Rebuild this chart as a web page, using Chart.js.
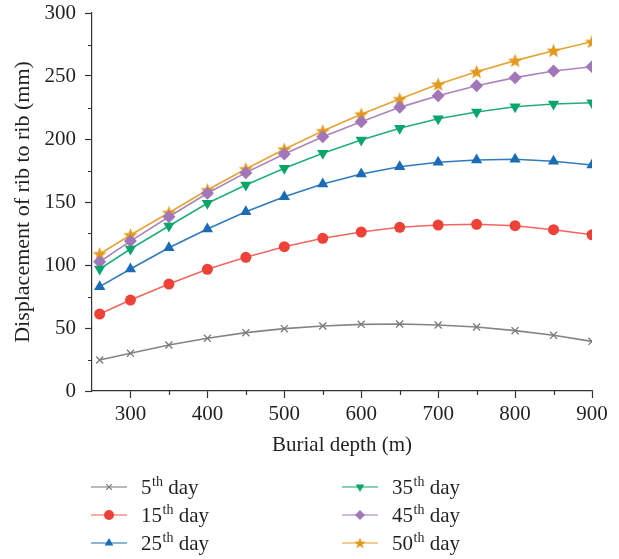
<!DOCTYPE html>
<html>
<head>
<meta charset="utf-8">
<script src="https://cdn.jsdelivr.net/npm/chart.js@4.4.1/dist/chart.umd.min.js"></script>
<style>
    html, body { margin: 0; padding: 0; background: #fff; }
</style>
</head>
<body>
<canvas id="ribChart" width="619" height="559"></canvas>
<script>
// Burial depth (m) and rib-to-rib displacement (mm) for each day
const depths = [260, 300, 350, 400, 450, 500, 550, 600, 650, 700, 750, 800, 850, 900];
const dayNumbers = [5, 15, 25, 35, 45, 50];
const day5 = [24.6, 29.9, 36.5, 41.8, 46.3, 49.5, 51.6, 52.9, 53.2, 52.4, 50.8, 47.9, 44.2, 39.4];
const day15 = [61.1, 72.2, 84.9, 96.6, 106.1, 114.5, 121.2, 126.2, 129.9, 131.7, 132.3, 131.2, 128.0, 124.0];
const day25 = [82.8, 96.8, 113.7, 128.6, 142.3, 154.2, 164.3, 172.2, 178.0, 181.5, 183.3, 183.9, 182.3, 179.4];
const day35 = [96.8, 112.7, 131.0, 149.0, 163.5, 176.7, 188.6, 199.2, 208.5, 216.1, 221.4, 225.6, 227.8, 228.8];
const day45 = [102.6, 119.0, 138.3, 156.9, 173.3, 188.1, 201.8, 213.7, 225.1, 234.4, 242.3, 248.7, 254.0, 257.4];
const day50 = [108.7, 123.8, 141.5, 159.5, 176.2, 191.8, 206.3, 219.6, 231.7, 243.4, 253.4, 262.2, 270.1, 277.2];
const xTicks = [300, 400, 500, 600, 700, 800, 900];
const yTicks = [0, 50, 100, 150, 200, 250, 300];

const serif = '"Liberation Serif", "DejaVu Serif", serif';
const textSize = 21;

// filled five-point star, used for the 50th day markers
function drawStar(ctx, cx, cy, r, color) {
    ctx.save();
    ctx.beginPath();
    for (let i = 0; i < 10; i++) {
        const rad = i % 2 === 0 ? r : r * 0.42;
        const a = -Math.PI / 2 + i * Math.PI / 5;
        const px = cx + rad * Math.cos(a);
        const py = cy + rad * Math.sin(a);
        if (i === 0) ctx.moveTo(px, py); else ctx.lineTo(px, py);
    }
    ctx.closePath();
    ctx.fillStyle = color;
    ctx.fill();
    ctx.restore();
}

function starCanvas(size, color) {
    const c = document.createElement('canvas');
    c.width = size;
    c.height = size;
    drawStar(c.getContext('2d'), size / 2, size / 2 + 0.5, size / 2, color);
    return c;
}

const seriesStyles = [
    { data: day5,  color: '#7a7a7a', line: 'rgba(110,110,110,0.85)', style: 'crossRot', radius: 5, rotation: 0 },
    { data: day15, color: '#ee4137', line: 'rgba(238,65,55,0.8)',   style: 'circle',   radius: 5.5, rotation: 0 },
    { data: day25, color: '#1a6db4', line: 'rgba(26,109,180,0.9)',  style: 'triangle', radius: 6.5, rotation: 0 },
    { data: day35, color: '#0aa56b', line: 'rgba(10,165,107,0.9)',  style: 'triangle', radius: 6.5, rotation: 180 },
    { data: day45, color: '#a177b7', line: 'rgba(161,119,183,0.9)', style: 'rectRot',  radius: 6.5, rotation: 0 },
    { data: day50, color: '#e2991d', line: 'rgba(226,153,29,0.9)',  style: 'star',     radius: 6.5, rotation: 0 }
];

const datasets = seriesStyles.map((s, i) => ({
    label: dayNumbers[i] + 'th day',
    data: s.data.map((v, j) => ({ x: depths[j], y: v })),
    borderColor: s.line,
    borderWidth: 1.6,
    pointStyle: s.style === 'star' ? starCanvas(15, s.color) : s.style,
    pointRotation: s.rotation,
    pointRadius: s.radius,
    pointBackgroundColor: s.color,
    pointBorderColor: s.color,
    pointBorderWidth: s.style === 'crossRot' ? 1.3 : 0,
    fill: false,
    tension: 0
}));

// short minor ticks between the labelled ones
const minorTicks = {
    id: 'minorTicks',
    afterDraw(chart) {
        const ctx = chart.ctx;
        const xs = chart.scales.x, ys = chart.scales.y;
        const area = chart.chartArea;
        ctx.save();
        ctx.strokeStyle = '#333';
        ctx.lineWidth = 1.2;
        ctx.beginPath();
        for (let v = 350; v <= 850; v += 100) {
            const px = Math.round(xs.getPixelForValue(v)) + 0.5;
            ctx.moveTo(px, area.bottom);
            ctx.lineTo(px, area.bottom + 4);
        }
        for (let v = 25; v <= 275; v += 50) {
            const py = Math.round(ys.getPixelForValue(v)) + 0.5;
            ctx.moveTo(area.left, py);
            ctx.lineTo(area.left - 4, py);
        }
        ctx.stroke();
        ctx.restore();
    }
};

// two-column legend with superscript ordinals
const ordinalLegend = {
    id: 'ordinalLegend',
    afterDraw(chart) {
        const ctx = chart.ctx;
        const cols = [91, 342];
        const rows = [487, 515, 543];
        ctx.save();
        chart.data.datasets.forEach((ds, i) => {
            const s = seriesStyles[i];
            const x0 = cols[Math.floor(i / 3)];
            const y = rows[i % 3];
            ctx.strokeStyle = s.line;
            ctx.globalAlpha = 0.75;
            ctx.lineWidth = 1.6;
            ctx.beginPath();
            ctx.moveTo(x0, y);
            ctx.lineTo(x0 + 36, y);
            ctx.stroke();
            ctx.globalAlpha = 1;
            const mx = x0 + 18;
            if (s.style === 'star') {
                drawStar(ctx, mx, y + 0.5, 6, s.color);
            } else {
                ctx.fillStyle = s.color;
                ctx.strokeStyle = s.color;
                ctx.lineWidth = s.style === 'crossRot' ? 1.2 : 0;
                Chart.helpers.drawPoint(ctx, {
                    pointStyle: s.style,
                    rotation: s.rotation,
                    radius: s.style === 'crossRot' ? 4 : 5,
                    borderWidth: s.style === 'crossRot' ? 1.2 : 0
                }, mx, y);
            }
            // label: number, superscript "th", then " day"
            const tx = x0 + 50;
            ctx.fillStyle = '#231f20';
            ctx.textBaseline = 'alphabetic';
            ctx.font = textSize + 'px ' + serif;
            const num = String(dayNumbers[i]);
            ctx.fillText(num, tx, y + 7);
            let w = ctx.measureText(num).width;
            ctx.font = '14px ' + serif;
            ctx.fillText('th', tx + w + 0.5, y - 1);
            w += ctx.measureText('th').width + 0.5;
            ctx.font = textSize + 'px ' + serif;
            ctx.fillText(' day', tx + w, y + 7);
        });
        ctx.restore();
    }
};

const ctx = document.getElementById('ribChart').getContext('2d');
new Chart(ctx, {
    type: 'line',
    data: { datasets: datasets },
    plugins: [minorTicks, ordinalLegend],
    options: {
        responsive: false,
        animation: false,
        layout: { padding: { left: 10, top: 13, right: 27, bottom: 101 } },
        plugins: {
            legend: { display: false },
            tooltip: { enabled: false }
        },
        scales: {
            x: {
                type: 'linear',
                min: 250,
                max: 900,
                afterBuildTicks: scale => { scale.ticks = xTicks.map(v => ({ value: v })); },
                afterFit: scale => { scale.height = 67; },
                border: { display: true, color: '#333', width: 1.2 },
                grid: { drawOnChartArea: false, drawTicks: true, tickLength: 7, tickColor: '#333', tickWidth: 1.2 },
                ticks: { color: '#231f20', font: { family: serif, size: textSize }, padding: 4, maxRotation: 0 },
                title: { display: true, text: 'Burial depth (m)', color: '#231f20', font: { family: serif, size: textSize }, padding: 0 }
            },
            y: {
                type: 'linear',
                min: 0,
                max: 300,
                afterBuildTicks: scale => { scale.ticks = yTicks.map(v => ({ value: v })); },
                afterFit: scale => {
                    scale.width = 82;
                    scale.paddingTop = 0;
                    scale.paddingBottom = 0;
                },
                border: { display: true, color: '#333', width: 1.2 },
                grid: { drawOnChartArea: false, drawTicks: true, tickLength: 7, tickColor: '#333', tickWidth: 1.2 },
                ticks: { color: '#231f20', font: { family: serif, size: textSize }, padding: 9 },
                title: { display: true, text: 'Displacement of rib to rib (mm)', color: '#231f20', font: { family: serif, size: 22 }, padding: 0 }
            }
        }
    }
});
</script>
</body>
</html>
